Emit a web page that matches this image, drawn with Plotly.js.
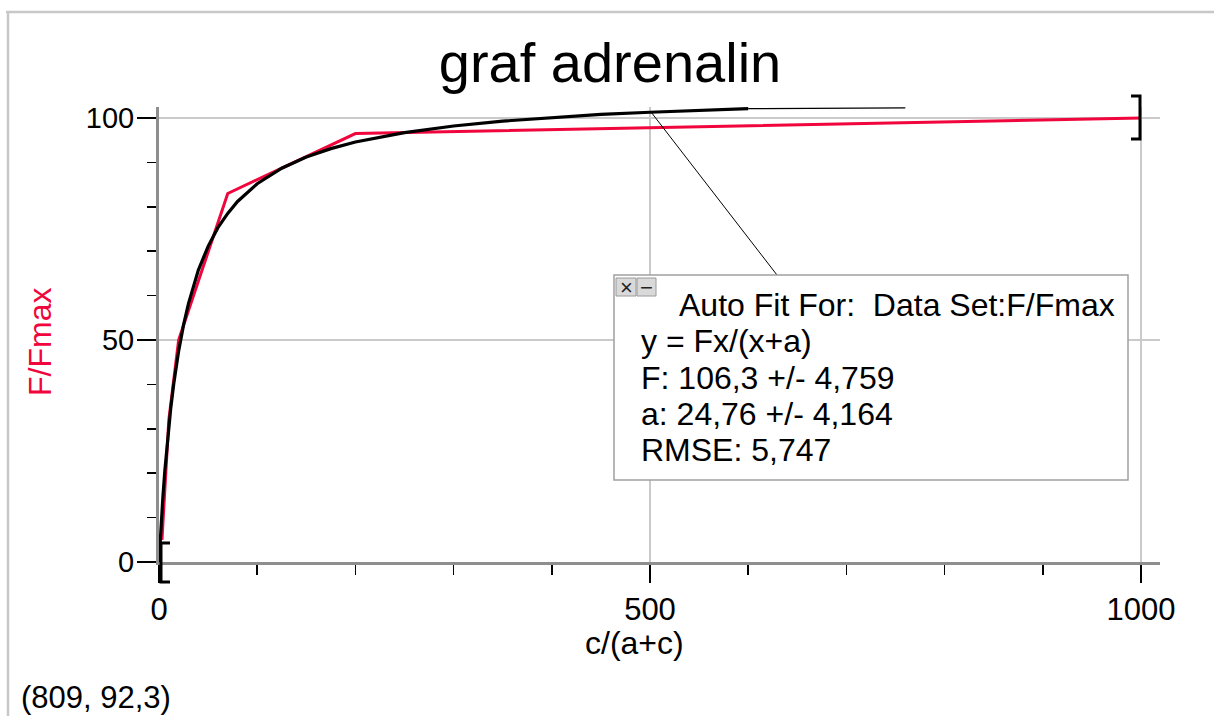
<!DOCTYPE html>
<html>
<head>
<meta charset="utf-8">
<script src="https://cdn.plot.ly/plotly-3.0.1.min.js"></script>
<style>
  html, body { margin: 0; padding: 0; background: #ffffff; }
  #chart { width: 1214px; height: 716px; }
</style>
</head>
<body>
<div id="chart"></div>
<script>
// ---- data ----
const concentration = [3, 10, 20, 70, 200, 1000];          // c/(a+c)
const fRelative     = [5, 32, 50, 83, 96.5, 100];          // F/Fmax (%)

// auto-fit curve y = F x/(x+a), F = 106.3, a = 24.76
const fitX = [0, 1, 2, 3, 4, 6, 8, 10, 12, 15, 20, 25, 30, 40, 50, 60, 70, 80, 100,
              125, 150, 175, 200, 250, 300, 350, 400, 450, 500, 550, 600];
const fitY = [0, 4.1, 7.9, 11.5, 14.8, 20.7, 26.0, 30.6, 34.7, 40.1, 47.5, 53.4, 58.2,
              65.7, 71.1, 75.3, 78.5, 81.2, 85.2, 88.7, 91.2, 93.1, 94.6, 96.7, 98.2,
              99.3, 100.1, 100.8, 101.3, 101.7, 102.1];
// thin extension of the fit beyond the data
const tailX = [600, 680, 760];
const tailY = [102.1, 102.2, 102.3];

const yTickVals = [0, 50, 100];
const yTickText = ['0', '50', '100'];
const xTickVals = [0, 500, 1000];
const xTickText = ['0', '500', '1000'];

const titleText = 'graf adrenalin';
const xTitle = 'c/(a+c)';
const yTitle = 'F/Fmax';
const fitLines = [
  'Auto Fit For:  Data Set:F/Fmax',
  'y = Fx/(x+a)',
  'F: 106,3 +/- 4,759',
  'a: 24,76 +/- 4,164',
  'RMSE: 5,747'
];
const cursorText = '(809, 92,3)';

// ---- layout geometry (pixels) ----
const W = 1214, H = 716;
const L = 159, R = 1160, T = 107, B = 562;
const PW = R - L, PH = B - T;
const px = v => (v - L) / PW;     // pixel x -> paper
const py = v => (B - v) / PH;     // pixel y -> paper

const FONT = '"Liberation Sans", Arial, sans-serif';
const RED = '#f0063c';
const GRID = '#cacaca';
const AXIS = '#8e8e8e';

const traces = [
  {
    x: concentration, y: fRelative, type: 'scatter', mode: 'lines',
    line: { color: RED, width: 3 }, hoverinfo: 'x+y', name: 'F/Fmax'
  },
  {
    x: fitX, y: fitY, type: 'scatter', mode: 'lines',
    line: { color: '#000000', width: 3.2 }, hoverinfo: 'x+y', name: 'fit'
  },
  {
    x: tailX, y: tailY, type: 'scatter', mode: 'lines',
    line: { color: '#000000', width: 1.2 }, hoverinfo: 'x+y', name: 'fit ext'
  }
];

const shapes = [
  // outer window frame
  { type: 'line', xref: 'paper', yref: 'paper', x0: px(6), x1: px(1214), y0: py(12), y1: py(12),
    line: { color: '#c8c8c8', width: 2.5 } },
  { type: 'line', xref: 'paper', yref: 'paper', x0: px(8), x1: px(8), y0: py(11), y1: py(716),
    line: { color: '#c8c8c8', width: 2.5 } },
  // data-range brackets
  { type: 'path', xref: 'paper', yref: 'paper',
    path: `M ${px(170)} ${py(543)} L ${px(161)} ${py(543)} L ${px(161)} ${py(582)} L ${px(170)} ${py(582)}`,
    line: { color: '#000000', width: 3 } },
  { type: 'path', xref: 'paper', yref: 'paper',
    path: `M ${px(1131)} ${py(96)} L ${px(1140)} ${py(96)} L ${px(1140)} ${py(139)} L ${px(1131)} ${py(139)}`,
    line: { color: '#000000', width: 3 } },
  // connector from fit box to curve
  { type: 'line', xref: 'paper', yref: 'paper', x0: px(651), y0: py(112), x1: px(777), y1: py(275),
    line: { color: '#000000', width: 1 } },
  // fit box
  { type: 'rect', xref: 'paper', yref: 'paper', x0: px(614), x1: px(1128), y0: py(275), y1: py(480),
    line: { color: '#a0a0a0', width: 1.5 }, fillcolor: '#ffffff' },
  { type: 'rect', xref: 'paper', yref: 'paper', x0: px(616), x1: px(636), y0: py(278), y1: py(296),
    line: { color: '#9a9a9a', width: 1 }, fillcolor: '#d9d9d9' },
  { type: 'rect', xref: 'paper', yref: 'paper', x0: px(637), x1: px(656), y0: py(278), y1: py(296),
    line: { color: '#9a9a9a', width: 1 }, fillcolor: '#d9d9d9' }
];

const fitLineX = [677, 639, 639, 639, 639];
const fitLineY = [305, 341, 378, 414, 450];
const annotations = fitLines.map((t, i) => ({
  text: t, xref: 'paper', yref: 'paper', x: px(fitLineX[i]), y: py(fitLineY[i]),
  xanchor: 'left', yanchor: 'middle', showarrow: false,
  font: { family: FONT, size: 32, color: '#000000' }
}));
annotations.push(
  { text: '×', xref: 'paper', yref: 'paper', x: px(626), y: py(287), xanchor: 'center', yanchor: 'middle',
    showarrow: false, font: { family: FONT, size: 22, color: '#222222' } },
  { text: '−', xref: 'paper', yref: 'paper', x: px(646.5), y: py(287), xanchor: 'center', yanchor: 'middle',
    showarrow: false, font: { family: FONT, size: 22, color: '#222222' } },
  { text: cursorText, xref: 'paper', yref: 'paper', x: px(19), y: py(697), xanchor: 'left', yanchor: 'middle',
    showarrow: false, font: { family: FONT, size: 31, color: '#000000' } },
  // axis titles (placed where the reference has them)
  { text: xTitle, xref: 'paper', yref: 'paper', x: px(634), y: py(643), xanchor: 'center', yanchor: 'middle',
    showarrow: false, font: { family: FONT, size: 32, color: '#000000' } },
  { text: yTitle, xref: 'paper', yref: 'paper', x: px(40), y: py(342), xanchor: 'center', yanchor: 'middle',
    textangle: -90, showarrow: false, font: { family: FONT, size: 32, color: RED } }
);

const layout = {
  width: W, height: H,
  margin: { l: L, r: W - R, t: T, b: H - B, pad: 0 },
  paper_bgcolor: '#ffffff', plot_bgcolor: '#ffffff',
  showlegend: false,
  font: { family: FONT, size: 30, color: '#000000' },
  title: {
    text: titleText, font: { family: FONT, size: 56, color: '#000000' },
    xref: 'paper', x: px(610), xanchor: 'center',
    yref: 'container', y: 1 - 62 / H, yanchor: 'middle'
  },
  xaxis: {
    range: [0, (R - L) / 0.982], autorange: false,
    tickmode: 'array', tickvals: xTickVals, ticktext: xTickText,
    ticks: 'outside', ticklen: 18, tickwidth: 1.5, tickcolor: '#000000',
    minor: { dtick: 100, tick0: 0, ticks: 'outside', ticklen: 10, tickwidth: 1.5, tickcolor: '#000000', showgrid: false },
    showline: true, linecolor: AXIS, linewidth: 3,
    showgrid: true, gridcolor: GRID, gridwidth: 1.5,
    zeroline: false,
    tickfont: { family: FONT, size: 31, color: '#000000' },
    automargin: false, fixedrange: true
  },
  yaxis: {
    range: [0, (B - T) / 4.44], autorange: false,
    tickmode: 'array', tickvals: yTickVals, ticktext: yTickText,
    ticks: 'outside', ticklen: 19, tickwidth: 1.5, tickcolor: '#000000',
    ticklabelstandoff: -3,
    minor: { dtick: 10, tick0: 0, ticks: 'outside', ticklen: 9, tickwidth: 1.5, tickcolor: '#000000', showgrid: false },
    showline: true, linecolor: AXIS, linewidth: 3,
    showgrid: true, gridcolor: GRID, gridwidth: 1.5,
    zeroline: false,
    tickfont: { family: FONT, size: 29, color: '#000000' },
    automargin: false, fixedrange: true
  },
  shapes: shapes,
  annotations: annotations
};

Plotly.newPlot('chart', traces, layout, { displayModeBar: false, staticPlot: true });
</script>
</body>
</html>
